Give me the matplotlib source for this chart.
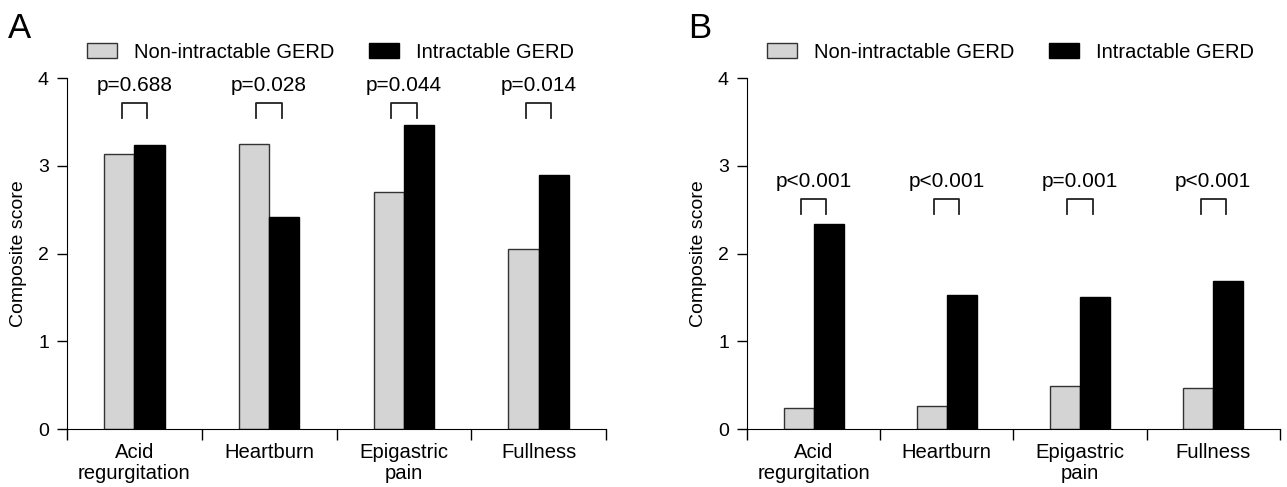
import matplotlib
matplotlib.use("Agg")
import matplotlib.pyplot as plt
from matplotlib.patches import Patch
import numpy as np

plt.rcParams['font.family'] = ['Liberation Sans', 'DejaVu Sans']

categories = ['Acid\nregurgitation', 'Heartburn', 'Epigastric\npain', 'Fullness']
series_names = ['Non-intractable GERD', 'Intractable GERD']

# panel A
a_non = [3.14, 3.25, 2.70, 2.05]
a_intr = [3.24, 2.42, 3.47, 2.89]
a_pvals = ['p=0.688', 'p=0.028', 'p=0.044', 'p=0.014']

# panel B
b_non = [0.235, 0.265, 0.485, 0.465]
b_intr = [2.34, 1.53, 1.50, 1.69]
b_pvals = ['p<0.001', 'p<0.001', 'p=0.001', 'p<0.001']

GRAY = '#d4d4d4'
FS = 14

fig = plt.figure(figsize=(12.87, 4.87), dpi=100)
axA = fig.add_axes([0.0521, 0.119, 0.4188, 0.7207])
axB = fig.add_axes([0.5804, 0.119, 0.4141, 0.7207])


def draw_panel(ax, non, intr, pvals, text_y, br_top, br_bot, legend_x):
    x = np.arange(len(categories)) + 0.5
    w = 0.225
    ax.bar(x - w / 2, non, w, color=GRAY, edgecolor='#333333', linewidth=1.0)
    ax.bar(x + w / 2, intr, w, color='black', edgecolor='black', linewidth=1.0)

    for xi, p in zip(x, pvals):
        ax.plot([xi - 0.095, xi - 0.095, xi + 0.095, xi + 0.095],
                [br_bot, br_top, br_top, br_bot], color='#222222', lw=1.3)
        ax.text(xi, text_y, p, ha='center', va='center', fontsize=FS + 1)

    ax.set_xlim(0, 4)
    ax.set_ylim(0, 4)
    ax.spines['top'].set_visible(False)
    ax.spines['right'].set_visible(False)
    ax.set_yticks([0, 1, 2, 3, 4])
    ax.set_yticklabels(['0', '1', '2', '3', '4'], fontsize=FS)
    ax.set_xticks([0, 1, 2, 3, 4])
    ax.set_xticklabels([])
    ax.set_xticks(x, minor=True)
    ax.set_xticklabels(categories, minor=True, fontsize=FS + 0.6, linespacing=1.15)
    ax.tick_params(axis='x', which='minor', length=0, pad=10)
    ax.tick_params(axis='x', which='major', length=8, width=1)
    ax.tick_params(axis='y', length=7, width=1, pad=6)
    ax.set_ylabel('Composite score', fontsize=FS, labelpad=8)

    handles = [Patch(facecolor=GRAY, edgecolor='#333333', linewidth=1.0),
               Patch(facecolor='black', edgecolor='black')]
    ax.legend(handles, series_names, ncol=2, loc='center', frameon=False,
              bbox_to_anchor=(legend_x, 1.074), fontsize=FS + 0.5,
              handlelength=1.5, handleheight=0.77, handletextpad=0.85,
              columnspacing=1.7, borderaxespad=0)


draw_panel(axA, a_non, a_intr, a_pvals, 3.91, 3.715, 3.54, 0.489)
draw_panel(axB, b_non, b_intr, b_pvals, 2.82, 2.62, 2.455, 0.495)

fig.text(8 / 1287, 1 - 28 / 487, 'A', fontsize=25, va='center', ha='left')
fig.text(688 / 1287, 1 - 28 / 487, 'B', fontsize=25, va='center', ha='left')

fig.savefig('out.png', dpi=100)
